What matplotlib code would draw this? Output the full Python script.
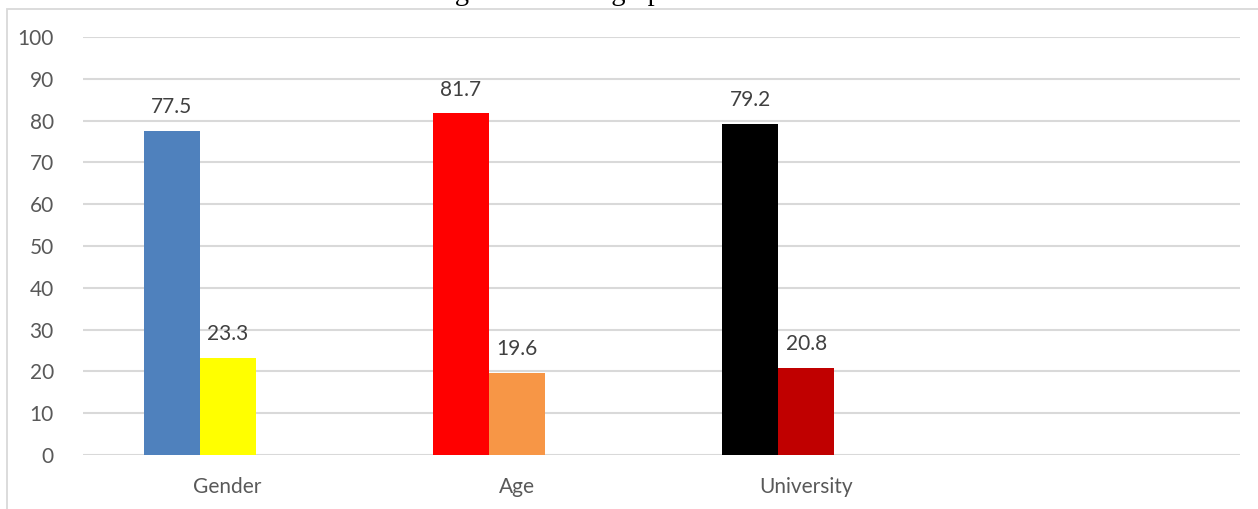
import numpy as np
import matplotlib.pyplot as plt
from matplotlib.patches import Rectangle

categories = ["Gender", "Age", "University", ""]
first_values = [77.5, 81.7, 79.2]
second_values = [23.3, 19.6, 20.8]
first_colors = ["#4F81BD", "#FF0000", "#000000"]
second_colors = ["#FFFF00", "#F79646", "#C00000"]
title = "Figure 1: Demographic Information"

W, H = 1258, 509
fig = plt.figure(figsize=(W / 100, H / 100), dpi=100)
plt.rcParams['font.family'] = ['Lato', 'DejaVu Sans']

# chart frame (only top/left edges are inside the crop)
fig.patches.append(Rectangle((7 / W, -0.1), 1.2, 1 - 9 / H + 0.1, transform=fig.transFigure,
                             fill=False, edgecolor="#D9D9D9", linewidth=1.3))

# title sits mostly above the crop, as in the source image
fig.text(0.505, 1 - 0.5 / H, title, ha="center", va="baseline", fontsize=20.5,
         family=["Liberation Serif"], color="black")

ax = fig.add_axes([83 / W, 1 - 455 / H, (1240 - 83) / W, (455 - 37) / H])
x = np.arange(len(categories))
w = 56 / ((1240 - 83) / 4)
n = len(first_values)
b1 = ax.bar(x[:n] - w, first_values, width=w, color=first_colors, zorder=3)
b2 = ax.bar(x[:n], second_values, width=w, color=second_colors, zorder=3)

for bars in (b1, b2):
    for r in bars:
        ax.annotate(f"{r.get_height():.1f}", (r.get_x() + r.get_width() / 2, r.get_height()),
                    xytext=(0, 10), textcoords="offset points", ha="center", va="bottom",
                    fontsize=15, color="#404040")

ax.set_xlim(-0.5, len(categories) - 0.5)
ax.set_ylim(0, 100)
ax.set_yticks(np.arange(0, 101, 10))
ax.set_xticks(x)
ax.set_xticklabels(categories)
ax.yaxis.grid(True, color="#D9D9D9", linewidth=1.5, zorder=0)
ax.set_axisbelow(True)
for s in ax.spines.values():
    s.set_visible(False)
ax.tick_params(axis="both", length=0, labelsize=15, labelcolor="#595959")
ax.tick_params(axis="y", pad=21)
ax.tick_params(axis="x", pad=16)

fig.savefig("out.png", dpi=100)
